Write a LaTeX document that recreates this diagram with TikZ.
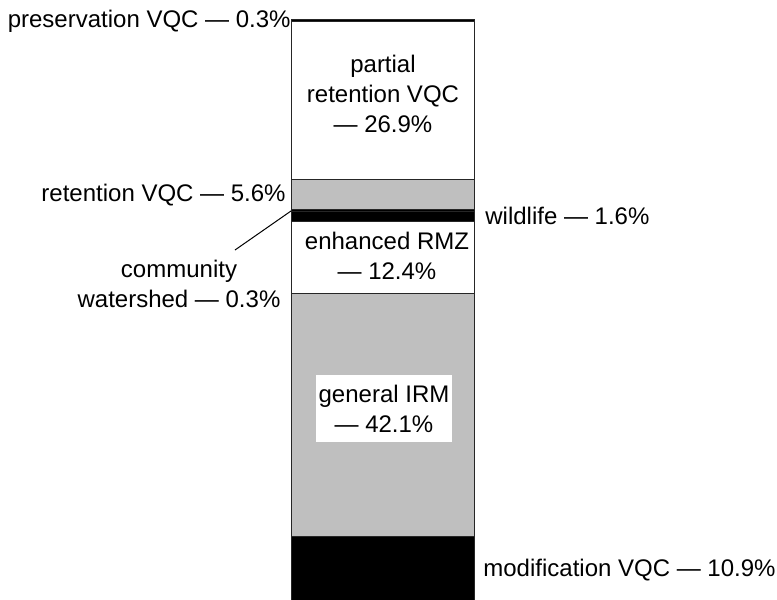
\documentclass[tikz,border=0pt]{standalone}
\usepackage{fontspec}
\setmainfont{Liberation Sans}
\usetikzlibrary{positioning}

\begin{document}
\begin{tikzpicture}[x=0.5pt, y=-0.5pt,
    every node/.style={font=\fontsize{12}{15}\selectfont, inner sep=0pt},
    seg/.style={draw=black!85, line width=0.5pt},
    lbl/.style={align=center},
    leader/.style={line width=0.5pt},
]
\useasboundingbox (0,0) rectangle (777,600);

% Stacked bar, top to bottom
\filldraw[seg, fill=black]    (291,19)  rectangle (474,21.5); % preservation
\filldraw[seg, fill=white]    (291,21.5) rectangle (474,179); % partial retention
\filldraw[seg, fill=black!25] (291,179) rectangle (474,209);  % retention
\filldraw[seg, fill=black]    (291,209) rectangle (474,211);  % community watershed
\filldraw[seg, fill=black]    (291,211) rectangle (474,221);  % wildlife
\filldraw[seg, fill=white]    (291,221) rectangle (474,293);  % enhanced RMZ
\filldraw[seg, fill=black!25] (291,293) rectangle (474,536);  % general IRM
\filldraw[seg, fill=black]    (291,536) rectangle (474,600);  % modification

% Labels inside the bar
\node[lbl] (partial) at (383,94) {partial\\retention VQC\\— 26.9\%};
\node[lbl] (enhanced) at (387,255.5) {enhanced RMZ\\— 12.4\%};
\node[lbl, fill=white, minimum width=68pt, minimum height=33.5pt] (general) at (384,408.5) {general IRM\\— 42.1\%};

% Labels left of the bar
\node[anchor=base east] (preservation) at (291,27) {preservation VQC — 0.3\%};
\node[anchor=base east] (retention) at (286,201) {retention VQC — 5.6\%};
\node[lbl] (community) at (179,283.5) {community\\watershed — 0.3\%};

% Labels right of the bar
\node[anchor=base west] (wildlife) at (485,224) {wildlife — 1.6\%};
\node[anchor=base west] (modification) at (483,576) {modification VQC — 10.9\%};

% Leader line for community watershed
\coordinate (commtip) at (235,250);
\coordinate (commseg) at (291,211);
\draw[leader] (commtip) -- (commseg);

\end{tikzpicture}
\end{document}
